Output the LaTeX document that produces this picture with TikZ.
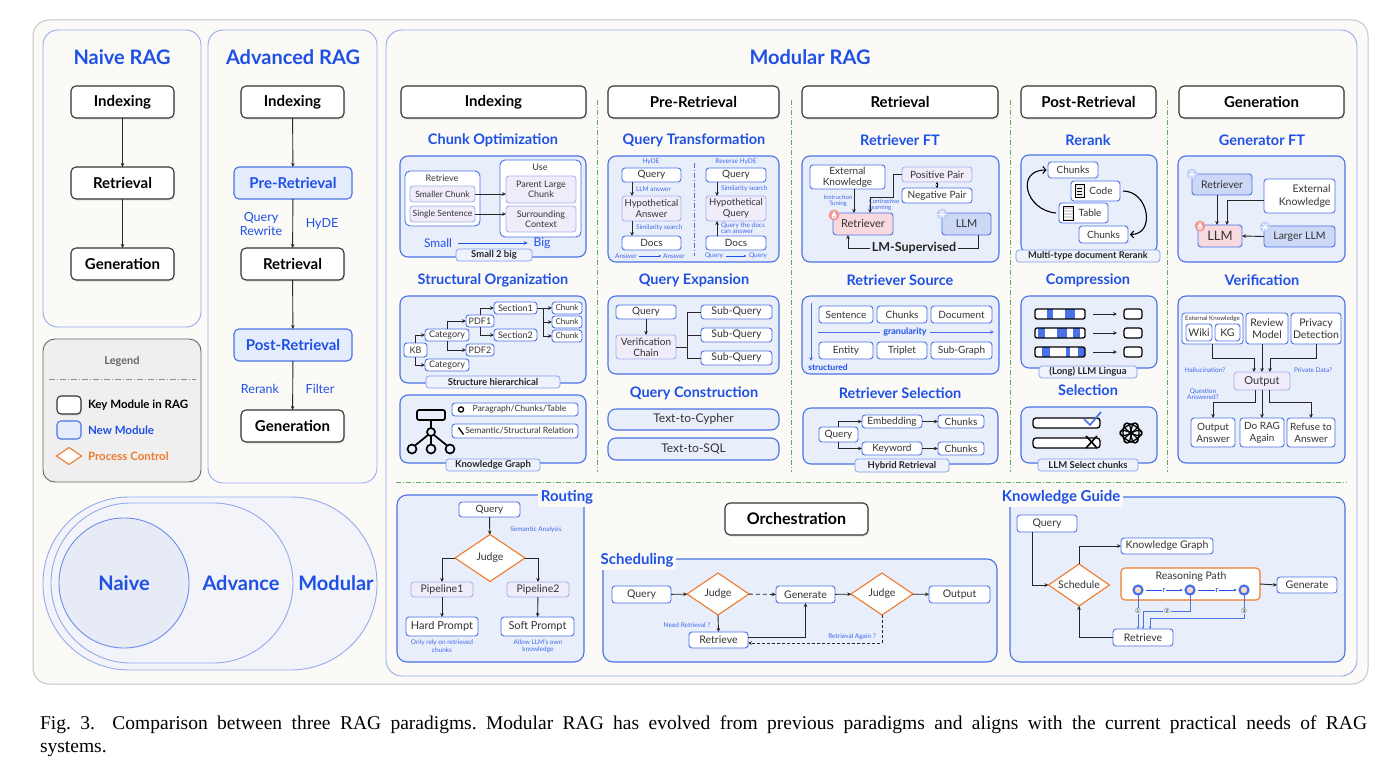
\documentclass[tikz,border=0pt]{standalone}
\usepackage{fontspec}
\setmainfont{Lato}
\newfontfamily\capfont{Liberation Serif}
\newfontfamily\dejavu{DejaVu Sans}
\usetikzlibrary{arrows.meta,shapes.geometric,shadows,calc}
\newcommand\fsz[2]{\fontsize{#1}{#2}\selectfont}
\definecolor{ttl}{HTML}{1E50E6}
\definecolor{bd}{HTML}{4A72E6}
\definecolor{pbd}{HTML}{93ABEE}
\definecolor{sf}{HTML}{E9EEFB}
\definecolor{paper}{HTML}{FBFAF6}
\definecolor{lav}{HTML}{F1ECFA}
\definecolor{lavbd}{HTML}{A3B3EE}
\definecolor{grn}{HTML}{5DAF5D}
\definecolor{org}{HTML}{EE7A2C}
\definecolor{pinkf}{HTML}{F8D9DD}
\definecolor{llmb}{HTML}{CCD8F5}
\definecolor{frm}{HTML}{C6C6C6}
\definecolor{lgd}{HTML}{EFEFEF}
\definecolor{newf}{HTML}{E5ECFD}
\definecolor{tagf}{HTML}{EEF2FD}
\definecolor{snowc}{HTML}{BFD0F7}
\definecolor{firec}{HTML}{F29A9A}
\definecolor{peach}{HTML}{FADCC6}
\definecolor{txt}{HTML}{333333}
\definecolor{circf}{HTML}{F2F4F9}
\definecolor{naivef}{HTML}{E7EBF5}
\newcommand\bx[8][]{\node[#2,minimum width={(#6)-(#4)},minimum height={(#7)-(#5)},#1] (#3) at ({((#4)+(#6))/2},{((#5)+(#7))/2}) {#8};}
\newcommand\snow[1]{\fill[snowc] (#1) circle (5.5);
  \foreach \a in {0,60,120}{\draw[white,line width=0.9] ($(#1)+(\a:3.8)$) -- ($(#1)+(\a+180:3.8)$);}}
\newcommand\fire[1]{\fill[firec] (#1) circle (5.5);
  \fill[white] ($(#1)+(0,1.2)$) circle (2.3);
  \fill[white] ($(#1)+(-2.2,0.6)$) -- ($(#1)+(0,-3.8)$) -- ($(#1)+(2.2,0.6)$) -- cycle;
  \fill[firec] ($(#1)+(0,1.6)$) circle (1);}
\tikzset{
  every node/.style={inner sep=0pt,outer sep=0pt},
  keyb/.style={draw=black!80,line width=1.1,rounded corners=5,fill=white,text=black,font=\fsz{15}{18}\bfseries,
     drop shadow={opacity=.18,shadow xshift=1pt,shadow yshift=-1.5pt}},
  newm/.style={draw=bd,line width=1.1,rounded corners=5,fill=newf,text=ttl,font=\fsz{15}{18}\bfseries},
  ttlf/.style={text=ttl,font=\fsz{20}{24}\bfseries},
  sect/.style={text=ttl,font=\fsz{14.5}{17}\bfseries},
  subb/.style={draw=bd,line width=1.1,rounded corners=8,fill=sf},
  ib/.style={draw=bd,line width=0.9,rounded corners=3,fill=white,align=center,text=txt,font=\fsz{10}{11}},
  pb/.style={ib,fill=lav,draw=lavbd},
  tagb/.style={draw=bd!70,line width=0.7,rounded corners=3,fill=tagf,text=black!85,font=\fsz{9.5}{11}\bfseries},
  nt/.style={text=ttl!85,font=\fsz{6.5}{7},align=center},
  arr/.style={-{Stealth[length=4pt,width=3.6pt]},line width=0.9,draw=black!85},
  tarr/.style={-{Stealth[length=2.5pt,width=2.5pt]},line width=0.6,draw=ttl,shorten <=1.5pt,shorten >=1.5pt},
  dia/.style={diamond,draw=org,line width=1.1,fill=white,aspect=1.5,text=txt,font=\fsz{10.5}{12}},
  barb/.style={-{Straight Barb[length=3pt,width=7pt]},line width=1.1},
  grnd/.style={draw=grn,line width=0.9,dash pattern=on 5pt off 2pt on 1pt off 2pt},
}
\begin{document}
\begin{tikzpicture}[x=1pt,y=-1pt]
\useasboundingbox (0,0) rectangle (1400,768);
\fill[white] (0,0) rectangle (1400,768);
% outer frame
\draw[draw=frm,fill=paper,line width=1,rounded corners=16] (33,20) rectangle (1368,684);
% ---------------- Naive
\draw[draw=pbd,fill=paper,line width=0.9,rounded corners=15] (43,30) rectangle (201,327);
\node[ttlf] (tnaive) at (122,57) {Naive RAG};
\bx{keyb}{n1}{71}{86}{174}{118}{Indexing}
\bx{keyb}{n2}{71}{167}{174}{199}{Retrieval}
\bx{keyb}{n3}{71}{248}{174}{280}{Generation}
\draw[arr] (n1) -- (n2);
\draw[arr] (n2) -- (n3);
% ---------------- Advanced
\draw[draw=pbd,fill=paper,line width=0.9,rounded corners=15] (208,30) rectangle (377,483);
\node[ttlf] (tadv) at (293,57) {Advanced RAG};
\bx{keyb}{a1}{241}{86}{344}{118}{Indexing}
\bx{newm}{a2}{234}{167}{352}{199}{Pre-Retrieval}
\bx{keyb}{a3}{241}{248}{344}{280}{Retrieval}
\bx{newm}{a4}{234}{329}{352}{361}{Post-Retrieval}
\bx{keyb}{a5}{241}{410}{344}{442}{Generation}
\draw[arr] (a1) -- (a2);
\draw[arr] (a2) -- (a3);
\draw[arr] (a3) -- (a4);
\draw[arr] (a4) -- (a5);
\node[text=ttl,font=\fsz{12.5}{14},align=center] (lqr) at (261,224) {Query\\Rewrite};
\node[text=ttl,font=\fsz{12.5}{14}] (lhy) at (322,224) {HyDE};
\node[text=ttl,font=\fsz{12.5}{14}] (lrr) at (260,389) {Rerank};
\node[text=ttl,font=\fsz{12.5}{14}] (lfi) at (320,389) {Filter};
% ---------------- Legend
\draw[draw=black!60,fill=lgd,line width=0.9,rounded corners=12] (43,339) rectangle (201,482);
\node[text=black!60,font=\fsz{11}{13}\bfseries] (lgt) at (122,361) {Legend};
\draw[draw=black!45,line width=0.7,dash pattern=on 6pt off 2pt on 1pt off 2pt] (49,379) -- (196,379);
\bx[rounded corners=4,line width=1.1]{keyb}{lk}{57}{396}{81}{414}{}
\bx[rounded corners=4]{newm}{ln}{57}{421}{81}{439}{}
\node[diamond,draw=org,line width=1.1,fill=white,minimum width=25,minimum height=17] (ld) at (69,456) {};
\node[anchor=west,font=\fsz{11.5}{13}\bfseries,text=black] (lkt) at (88,405) {Key Module in RAG};
\node[anchor=west,font=\fsz{11.5}{13}\bfseries,text=ttl] (lnt) at (88,430) {New Module};
\node[anchor=west,font=\fsz{11.5}{13}\bfseries,text=org] (ldt) at (88,456) {Process Control};
% ---------------- circles
\draw[draw=pbd,fill=circf,line width=0.9,rounded corners=86] (43,497) rectangle (377,670);
\draw[draw=pbd,fill=circf,line width=0.9,rounded corners=80] (51,503) rectangle (293,663);
\draw[draw=bd!80,fill=naivef,line width=0.9] (124,583) circle (65);
\node[text=ttl,font=\fsz{20}{24}\bfseries] (cn) at (124,583) {Naive};
\node[text=ttl,font=\fsz{20}{24}\bfseries] (ca) at (241,583) {Advance};
\node[text=ttl,font=\fsz{20}{24}\bfseries] (cm) at (336,583) {Modular};
% ---------------- Modular
\draw[draw=pbd,fill=paper,line width=0.9,rounded corners=16] (386,30) rectangle (1357,676);
\node[ttlf] (tmod) at (810,57) {Modular RAG};
\bx{keyb}{h1}{401}{86}{586}{118}{Indexing}
\bx{keyb}{h2}{608}{86}{779}{118}{Pre-Retrieval}
\bx{keyb}{h3}{802}{86}{998}{118}{Retrieval}
\bx{keyb}{h4}{1021}{86}{1156}{118}{Post-Retrieval}
\bx{keyb}{h5}{1179}{86}{1344}{118}{Generation}
\foreach \xx in {597,791,1010,1167}{\draw[grnd] (\xx,100) -- (\xx,472);}
\draw[grnd] (396,482) -- (1347,482);
% ===== Column 1: Indexing
\node[sect] (t11) at (493,140) {Chunk Optimization};
\draw[subb] (400,156) rectangle (586,257);
\bx[rounded corners=5]{ib}{ret}{405}{171}{480}{226}{}
\node[text=txt,font=\fsz{9}{10}] (rett) at (442,178) {Retrieve};
\bx[font=\fsz{8.6}{10}]{pb}{sc}{410}{186}{475}{202}{Smaller Chunk}
\bx[font=\fsz{8.6}{10}]{pb}{ss}{410}{206}{475}{222}{Single Sentence}
\bx[rounded corners=5]{ib}{use}{500}{160}{581}{237}{}
\node[text=txt,font=\fsz{9}{10}] (uset) at (540,167) {Use};
\bx[font=\fsz{9}{10}]{pb}{plc}{506}{176}{576}{203}{Parent Large\\Chunk}
\bx[font=\fsz{9}{10}]{pb}{sctx}{506}{206}{576}{232}{Surrounding\\Context}
\draw[arr] (sc.east) -- (sc.east -| plc.west);
\draw[arr] (ss.east) -- (ss.east -| sctx.west);
\node[text=ttl,font=\fsz{12}{14}] (sml) at (438,243) {Small};
\node[text=ttl,font=\fsz{12}{14}] (big) at (542,243) {Big};
\draw[arr,draw=ttl,shorten <=6pt,shorten >=6pt] (sml) -- (big);
\bx{tagb}{tg1}{456}{249}{532}{261}{Small 2 big}
\node[sect] (t12) at (493,280) {Structural Organization};
\draw[subb] (400,296) rectangle (586,383);
\bx[font=\fsz{9}{10}]{ib}{kb}{404}{343}{427}{357}{KB}
\bx[font=\fsz{9}{10}]{ib}{cat1}{425}{329}{469}{341}{Category}
\bx[font=\fsz{9}{10}]{ib}{cat2}{425}{359}{469}{371}{Category}
\bx[font=\fsz{9}{10}]{ib}{pdf1}{466}{315}{494}{327}{PDF1}
\bx[font=\fsz{9}{10}]{ib}{pdf2}{466}{344}{494}{356}{PDF2}
\bx[font=\fsz{9}{10}]{ib}{s1}{494}{302}{537}{314}{Section1}
\bx[font=\fsz{9}{10}]{ib}{s2}{494}{329}{537}{341}{Section2}
\bx[font=\fsz{8}{9}]{ib}{ch1}{552}{302}{582}{314}{Chunk}
\bx[font=\fsz{8}{9}]{ib}{ch2}{552}{316}{582}{328}{Chunk}
\bx[font=\fsz{8}{9}]{ib}{ch3}{552}{330}{582}{342}{Chunk}
\draw[arr] (kb.north) |- (cat1.west);
\draw[arr] (kb.south) |- (cat2.west);
\draw[arr] (cat1.north) |- (pdf1.west);
\draw[arr] (cat1.south) |- (pdf2.west);
\draw[arr] (pdf1.north) |- (s1.west);
\draw[arr] (pdf1.south) |- (s2.west);
\coordinate (brc) at (543,308);
\draw[line width=0.9,draw=black!85] (s1.east) -- (brc) -- (brc |- ch3);
\draw[arr] (brc) -- (ch1.west);
\draw[arr] (brc |- ch2) -- (ch2.west);
\draw[arr] (brc |- ch3) -- (ch3.west);
\bx{tagb}{tg2}{426}{376}{560}{388}{Structure hierarchical}
\draw[subb] (400,395) rectangle (586,463);
\draw[line width=1.7,rounded corners=2] (417,410) rectangle (445,420);
\draw[line width=1.7] (431,420) -- (431,428);
\draw[line width=1.7] (431,432) circle (4);
\foreach \cx in {412,431,450}{\draw[line width=1.7] (\cx,449) circle (4.5);}
\draw[line width=1.7] (428,435) -- (415,445.5);
\draw[line width=1.7] (431,436) -- (431,444.5);
\draw[line width=1.7] (434,435) -- (447,445.5);
\bx[font=\fsz{8.6}{10}]{ib}{pct}{452}{403}{578}{416}{\hspace*{9pt}Paragraph/Chunks/Table}
\bx[font=\fsz{8.6}{10}]{ib}{ssr}{452}{424}{578}{438}{\hspace*{9pt}Semantic/Structural Relation}
\draw[line width=1.3] (461,409.5) circle (2.6);
\draw[line width=1.3] (458.5,427.5) -- (463.5,434.5);
\bx{tagb}{tg3}{446}{459}{540}{471}{Knowledge Graph}
% ===== Column 2: Pre-Retrieval
\node[sect] (t21) at (694,140) {Query Transformation};
\draw[subb] (608,156) rectangle (779,262);
\draw[draw=bd,line width=0.8,dash pattern=on 5pt off 2pt on 1pt off 2pt] (694,163) -- (694,256);
\node[nt] (lhyde) at (651,162) {HyDE};
\node[nt] (lrhyde) at (736,162) {Reverse HyDE};
\bx{ib}{q1}{622}{168}{681}{182}{Query}
\bx[font=\fsz{9.5}{10.5}]{pb}{ha}{622}{196}{681}{221}{Hypothetical\\Answer}
\bx{ib}{d1}{622}{236}{681}{250}{Docs}
\draw[arr] ([xshift=-19.5pt]q1.south) -- ([xshift=-19.5pt]ha.north);
\draw[arr] ([xshift=-19.5pt]ha.south) -- ([xshift=-19.5pt]d1.north);
\node[nt,anchor=west] (lla) at (636,189) {LLM answer};
\node[nt,anchor=west] (lss1) at (636,228) {Similarity search};
\node[nt] (an1) at (626,256) {Answer};
\node[nt] (an2) at (674,256) {Answer};
\draw[tarr,shorten <=2pt,shorten >=2pt] (an1) -- (an2);
\bx{ib}{q2}{706}{168}{766}{182}{Query}
\bx[font=\fsz{9.5}{10.5}]{pb}{hq}{706}{196}{766}{221}{Hypothetical\\Query}
\bx{ib}{d2}{706}{236}{766}{250}{Docs}
\draw[arr] ([xshift=-19pt]q2.south) -- ([xshift=-19pt]hq.north);
\draw[arr] ([xshift=-19pt]d2.north) -- ([xshift=-19pt]hq.south);
\node[nt,anchor=west] (lss2) at (721,189) {Similarity search};
\node[nt,anchor=west,align=left,font=\fsz{6.5}{6.5}] (lqd) at (721,228) {Query the docs\\can answer};
\node[nt] (qn1) at (714,256) {Query};
\node[nt] (qn2) at (758,256) {Query};
\draw[tarr,shorten <=3pt,shorten >=3pt] (qn1) -- (qn2);
\node[sect] (t22) at (694,280) {Query Expansion};
\draw[subb] (608,296) rectangle (779,374);
\bx{ib}{qe}{616}{305}{676}{319}{Query}
\bx{pb}{vc}{616}{335}{676}{359}{Verification\\Chain}
\bx[font=\fsz{10.5}{12}]{ib}{sq1}{701}{305}{772}{319}{Sub-Query}
\bx[font=\fsz{10.5}{12}]{ib}{sq2}{701}{328}{772}{342}{Sub-Query}
\bx[font=\fsz{10.5}{12}]{ib}{sq3}{701}{351}{772}{365}{Sub-Query}
\draw[arr] (qe) -- (vc);
\coordinate (qb) at (687,347);
\draw[line width=0.9,draw=black!85] (vc.east) -- (qb);
\draw[line width=0.9,draw=black!85] (qb |- sq1) -- (qb |- sq3);
\draw[line width=0.9,draw=black!85] (qb |- sq1) -- (sq1.west);
\draw[line width=0.9,draw=black!85] (qb |- sq2) -- (sq2.west);
\draw[line width=0.9,draw=black!85] (qb |- sq3) -- (sq3.west);
\node[sect] (t23) at (694,393) {Query Construction};
\bx[rounded corners=8,line width=1.1,fill=sf,font=\fsz{12}{14}]{ib}{tcy}{608}{409}{779}{430}{Text-to-Cypher}
\bx[rounded corners=8,line width=1.1,fill=sf,font=\fsz{12}{14}]{ib}{tsq}{608}{438}{779}{460}{Text-to-SQL}
% ===== Column 3: Retrieval
\node[sect] (t31) at (900,140) {Retriever FT};
\draw[subb] (802,156) rectangle (999,262);
\bx[font=\fsz{10}{10.5}]{ib}{ek}{810}{165}{885}{189}{External\\Knowledge}
\bx[font=\fsz{10}{11}]{pb}{pp}{902}{167}{972}{182}{Positive Pair}
\bx[font=\fsz{10}{11}]{ib}{np}{902}{188}{972}{203}{Negative Pair}
\bx[fill=pinkf,font=\fsz{11}{12}]{ib}{rt}{833}{213}{893}{235}{Retriever}
\bx[fill=llmb,font=\fsz{11}{12}]{ib}{llm}{942}{213}{991}{235}{LLM}
\fire{834,215}
\snow{942,214}
\draw[{Stealth[length=2.5pt,width=2.5pt]}-{Stealth[length=2.5pt,width=2.5pt]},line width=0.8] (pp.south) -- (np.north);
\draw[arr] ([xshift=6.5pt]ek.south) -- ([xshift=-9pt]rt.north);
\node[nt,font=\fsz{6}{6.3}] (lit) at (838,201) {Instruction\\Tuning};
\draw[arr] (pp.west) -| (893,197) -| ([xshift=7pt]rt.north);
\node[nt,font=\fsz{6}{6.3},align=left] (lcl) at (884,205) {Contrastive\\Learning};
\draw[arr] ([xshift=11.5pt]llm.south) -- ++(0,13) -| ([xshift=-15pt]rt.south);
\node[fill=sf,inner xsep=2pt,inner ysep=1pt,font=\fsz{12.5}{14}\bfseries,text=black!85] (lms) at (914,248) {LM-Supervised};
\node[sect] (t32) at (900,280) {Retriever Source};
\draw[subb] (802,296) rectangle (999,374);
\draw[arr,draw=bd] (811,303) -- (811,361);
\node[text=ttl,font=\fsz{8.5}{10}\bfseries] (lst) at (828,367) {structured};
\bx{ib}{rs1}{819}{306}{873}{323}{Sentence}
\bx{ib}{rs2}{877}{306}{927}{323}{Chunks}
\bx{ib}{rs3}{931}{306}{992}{323}{Document}
\bx{ib}{rs4}{819}{342}{873}{359}{Entity}
\bx{ib}{rs5}{877}{342}{927}{359}{Triplet}
\bx{ib}{rs6}{931}{342}{992}{359}{Sub-Graph}
\draw[arr,draw=bd] (818,332) -- (994,332);
\node[fill=sf,inner xsep=3pt,inner ysep=1pt,text=ttl,font=\fsz{9}{10}\bfseries] (lgr) at (905,332) {granularity};
\node[sect] (t33) at (900,393) {Retriever Selection};
\draw[subb] (803,408) rectangle (998,464);
\bx{ib}{qs}{819}{427}{858}{442}{Query}
\bx{ib}{emb}{862}{415}{922}{428}{Embedding}
\bx{ib}{kw}{862}{442}{922}{455}{Keyword}
\bx{ib}{cha}{938}{415}{984}{428}{Chunks}
\bx{ib}{chb}{938}{442}{984}{455}{Chunks}
\draw[arr] (qs.north) |- (emb.west);
\draw[arr] (qs.south) |- (kw.west);
\draw[arr] (emb) -- (cha);
\draw[arr] (kw) -- (chb);
\bx{tagb}{tg4}{855}{459}{949}{472}{Hybrid Retrieval}
% ===== Column 4: Post-Retrieval
\node[sect] (t41) at (1088,140) {Rerank};
\draw[subb] (1021,155) rectangle (1157,253);
\bx{ib}{rk1}{1048}{162}{1098}{178}{Chunks}
\bx{ib}{rk2}{1071}{181}{1120}{201}{\hspace*{11pt}Code}
\bx{ib}{rk3}{1059}{203}{1108}{223}{\hspace*{13pt}Table}
\bx{ib}{rk4}{1079}{226}{1128}{243}{Chunks}
\draw[line width=0.7,fill=black!8] (1075,184.5) rectangle (1084,197.5);
\foreach \yy in {188,191,194}{\draw[line width=0.5] (1077,\yy) -- (1082,\yy);}
\draw[line width=0.7,fill=black!15] (1063,206) rectangle (1073,220);
\foreach \yy in {209,212,215,218}{\draw[line width=0.5,white] (1064,\yy) -- (1072,\yy);}
\draw[barb] ([xshift=-3pt]rk3.west) to[out=175,in=180,looseness=1.8] ([xshift=-1.5pt]rk1.west);
\draw[barb] ([xshift=3pt]rk2.east) to[out=0,in=0,looseness=1.5] ([xshift=2pt]rk4.east);
\bx[font=\fsz{9.3}{11}\bfseries]{tagb}{tg5}{1016}{250}{1160}{262}{Multi-type document Rerank}
\node[sect] (t42) at (1088,280) {Compression};
\draw[subb] (1021,296) rectangle (1157,368);
\foreach \nm/\yy in {1/314,2/333,3/352}{
  \bx[draw=none,rounded corners=2]{ib}{bar\nm}{1035}{\yy-5}{1085}{\yy+5}{}
  \bx[draw=black,line width=1.2,rounded corners=2.5]{ib}{cb\nm}{1124}{\yy-5}{1142}{\yy+5}{}
  \draw[arr] ([xshift=8pt]bar\nm.east) -- ([xshift=-7pt]cb\nm.west);
}
\fill[bd] (1047,309) rectangle (1053,319);
\fill[bd] (1065,309) rectangle (1075,319);
\fill[bd] (1038,328) rectangle (1045,338);
\fill[bd] (1057,328) rectangle (1067,338);
\fill[bd] (1073,328) rectangle (1080,338);
\fill[bd] (1042,347) rectangle (1050,357);
\fill[bd] (1066,347) rectangle (1070,357);
\fill[bd] (1078,347) rectangle (1085,357);
\foreach \nm in {1,2,3}{\draw[line width=1.3,rounded corners=2] (bar\nm.north west) rectangle (bar\nm.south east);}
\bx{tagb}{tg6}{1039}{366}{1137}{378}{(Long) LLM Lingua}
\node[sect] (t43) at (1088,390) {Selection};
\draw[subb] (1021,407) rectangle (1157,463);
\bx[draw=black,line width=1.3,rounded corners=3]{ib}{sel1}{1033}{418}{1100}{428}{}
\bx[draw=black,line width=1.3,rounded corners=3]{ib}{sel2}{1033}{438}{1100}{448}{}
\draw[draw=bd,line width=1.7] (1084,419) -- (1090,425) -- (1101,412);
\draw[line width=1.6] (1086,436) -- (1097,448);
\draw[line width=1.6] (1086,448) -- (1097,436);
\foreach \a in {0,60,...,300}{\draw[line width=1.3,rotate around={\a:(1131,433)}] (1135,433) ellipse (4 and 10);}
\bx{tagb}{tg7}{1038}{459}{1138}{471}{LLM Select chunks}
% ===== Column 5: Generation
\node[sect] (t51) at (1262,140) {Generator FT};
\draw[subb] (1178,156) rectangle (1345,262);
\bx[fill=llmb,font=\fsz{10.5}{12}]{ib}{gr}{1192}{174}{1252}{195}{Retriever}
\bx[font=\fsz{10.5}{13},text width=62,align=right]{ib}{gek}{1264}{179}{1335}{213}{External\\Knowledge}
\bx[fill=pinkf,font=\fsz{13}{14}]{ib}{gllm}{1198}{225}{1242}{247}{LLM}
\bx[fill=llmb,font=\fsz{10.5}{12}]{ib}{glg}{1264}{226}{1335}{247}{Larger LLM}
\snow{1192,174}
\fire{1200,226}
\snow{1265,227}
\draw[arr] ([xshift=-5pt]gr.south) -- ([xshift=-3pt]gllm.north);
\draw[arr] ([yshift=-4pt]gek.west) -| ([xshift=7pt]gllm.north);
\draw[arr] (glg.west) -- (gllm.east);
\node[sect] (t52) at (1262,280) {Verification};
\draw[subb] (1178,296) rectangle (1345,463);
\bx{ib}{ekg}{1182}{313}{1243}{344}{}
\node[text=txt,font=\fsz{6.2}{7}] (ekgt) at (1212.5,318.5) {External Knowledge};
\bx[font=\fsz{10.5}{12}]{ib}{wiki}{1186}{324}{1212}{341}{Wiki}
\bx[font=\fsz{10.5}{12}]{ib}{kg}{1215}{324}{1240}{341}{KG}
\bx[font=\fsz{10.5}{12.5}]{ib}{rm}{1246}{313}{1288}{344}{Review\\Model}
\bx[font=\fsz{10.5}{12.5}]{ib}{pd}{1291}{313}{1341}{344}{Privacy\\Detection}
\bx[font=\fsz{11}{12}]{pb}{vout}{1234}{372}{1290}{390}{Output}
\coordinate (vj) at (1262,358);
\coordinate (vk) at (1262,402);
\draw[arr] (ekg.south) |- ([xshift=-8pt]vj) -- ([xshift=-8pt]vout.north);
\draw[arr] (vout.north |- rm.south) -- (vout.north);
\draw[arr] (pd.south) |- ([xshift=8pt]vj) -- ([xshift=8pt]vout.north);
\node[nt] (lhal) at (1205,370) {Hallucination?};
\node[nt] (lpri) at (1313,370) {Private Data?};
\node[nt,font=\fsz{6.5}{6.5}] (lqa) at (1203,394) {Question\\Answered?};
\bx[font=\fsz{10}{12}]{ib}{oa}{1191}{418}{1235}{447}{Output\\Answer}
\bx[font=\fsz{10}{12}]{ib}{dra}{1240}{418}{1284}{447}{Do RAG\\Again}
\bx[font=\fsz{10}{12}]{ib}{rfa}{1287}{418}{1335}{447}{Refuse to\\Answer}
\draw[arr] ([xshift=-7pt]vout.south) |- (oa.north |- vk) -- (oa.north);
\draw[arr] (vout.south) -- (dra.north);
\draw[arr] ([xshift=7pt]vout.south) |- (rfa.north |- vk) -- (rfa.north);
% ===== Routing
\draw[subb,rounded corners=10] (397,495) rectangle (584,662);
\node[fill=paper,inner sep=3pt,text=ttl,font=\fsz{15}{18}\bfseries] (trout) at (567,497) {Routing};
\bx{ib}{rq}{459}{502}{520}{517}{Query}
\node[dia,minimum width=70,minimum height=47] (rj) at (490,558) {Judge};
\bx[font=\fsz{10.5}{12}]{pb}{pl1}{411}{582}{473}{597}{Pipeline1}
\bx[font=\fsz{10.5}{12}]{pb}{pl2}{507}{582}{569}{597}{Pipeline2}
\bx[font=\fsz{11}{13}]{ib}{hp}{406}{617}{478}{636}{Hard Prompt}
\bx[font=\fsz{11}{13}]{ib}{spr}{501}{617}{574}{636}{Soft Prompt}
\draw[arr] (rq) -- (rj);
\draw[arr] (rj.west) -| (pl1.north);
\draw[arr] (rj.east) -| (pl2.north);
\draw[arr] (pl1) -- (hp);
\draw[arr] (pl2) -- (spr);
\node[nt] (lsa) at (536,530) {Semantic Analysis};
\node[nt,font=\fsz{6.5}{7.5}] (lor) at (442,646) {Only rely on retrieved\\chunks};
\node[nt,font=\fsz{6.5}{7.5}] (lal) at (538,646) {Allow LLM's own\\knowledge};
% ===== Orchestration
\bx[font=\fsz{16}{19}\bfseries]{keyb}{orc}{725}{503}{868}{535}{Orchestration}
\draw[subb,rounded corners=10] (603,559) rectangle (997,662);
\node[fill=paper,inner sep=3pt,text=ttl,font=\fsz{15}{18}\bfseries] (tsch) at (637,560) {Scheduling};
\bx[font=\fsz{10.5}{12}]{ib}{sq}{612}{586}{671}{603}{Query}
\node[dia,minimum width=62,minimum height=42] (j1) at (718,594) {Judge};
\bx[font=\fsz{10.5}{12}]{ib}{gen}{776}{586}{835}{603}{Generate}
\node[dia,minimum width=62,minimum height=42] (j2) at (882,594) {Judge};
\bx[font=\fsz{10.5}{12}]{ib}{sout}{929}{586}{990}{603}{Output}
\bx[font=\fsz{10.5}{12}]{ib}{sret}{689}{632}{748}{648}{Retrieve}
\draw[arr] (sq) -- (j1);
\draw[arr,dash pattern=on 4pt off 3pt] (j1) -- (gen);
\draw[arr] (gen) -- (j2);
\draw[arr] (j2) -- (sout);
\draw[arr] (j1.south) -- (sret.north);
\draw[arr] ([yshift=3pt]sret.east) -| (gen.south);
\draw[arr,dash pattern=on 3pt off 2pt] (j2.south) |- ([yshift=-3pt]sret.east);
\node[nt] (lnr) at (687,625) {Need Retrieval ?};
\node[nt] (lra) at (852,637) {Retrieval Again ?};
% ===== Knowledge Guide
\draw[subb,rounded corners=10] (1010,497) rectangle (1345,662);
\node[fill=paper,inner sep=3pt,text=ttl,font=\fsz{15}{18}\bfseries] (tkg) at (1061,497) {Knowledge Guide};
\bx[font=\fsz{10.5}{12}]{ib}{kq}{1017}{515}{1077}{532}{Query}
\node[dia,minimum width=61,minimum height=42] (ksch) at (1079,585) {Schedule};
\bx[font=\fsz{10.5}{12}]{ib}{kkg}{1121}{538}{1213}{554}{Knowledge Graph}
\bx[draw=org,line width=1.1,rounded corners=4]{ib}{krp}{1121}{568}{1260}{600}{}
\node[text=txt,font=\fsz{10.5}{12}] (krpt) at (1191,577) {Reasoning Path};
\bx[font=\fsz{10.5}{12}]{ib}{kgen}{1277}{577}{1337}{593}{Generate}
\bx[font=\fsz{10.5}{12}]{ib}{kret}{1113}{629}{1173}{646}{Retrieve}
\draw[arr] ([xshift=-15pt]kq.south) |- (ksch.west);
\draw[arr] (ksch.north) |- (kkg.west);
\draw[arr] (kret.west) -| (ksch.south);
\draw[arr] (krp.east) -- (kgen.west);
\foreach \nm/\cx in {1/1138,2/1190,3/1244}{\node[circle,draw=bd,line width=2.2,fill=peach,minimum size=9] (kc\nm) at (\cx,590) {};}
\draw[tarr,shorten <=3pt,shorten >=3pt,line width=0.9] (kc1) -- node[fill=white,inner xsep=1pt,font=\fsz{8}{9},text=ttl] (lr1) {r} (kc2);
\draw[tarr,shorten <=3pt,shorten >=3pt,line width=0.9] (kc2) -- node[fill=white,inner xsep=1pt,font=\fsz{8}{9},text=ttl] (lr2) {r} (kc3);
\coordinate (kk2) at (1143,611);
\coordinate (kk3) at (1150,618);
\draw[-{Stealth[length=2.5pt,width=2.5pt]},draw=bd,line width=0.6] (kc1.south) -- (kc1.south |- kret.north);
\draw[-{Stealth[length=2.5pt,width=2.5pt]},draw=bd,line width=0.6] (kc2.south) |- (kk2) -- (kk2 |- kret.north);
\draw[-{Stealth[length=2.5pt,width=2.5pt]},draw=bd,line width=0.6] (kc3.south) |- (kk3) -- (kk3 |- kret.north);
\node[fill=sf,inner sep=0.5pt,font=\dejavu\fsz{7}{8},text=black!70] (n1l) at (1138,611) {①};
\node[fill=sf,inner sep=0.5pt,font=\dejavu\fsz{7}{8},text=black!70] (n2l) at (1167,611) {②};
\node[fill=sf,inner sep=0.5pt,font=\dejavu\fsz{7}{8},text=black!70] (n3l) at (1244,611) {③};
% ===== caption
\node[anchor=base west,font=\capfont\fsz{19.5}{23}] (cap1) at (40,729) {\frenchspacing\makebox[1327pt][s]{Fig. 3.\hspace{0.9em}Comparison between three RAG paradigms. Modular RAG has evolved from previous paradigms and aligns with the current practical needs of RAG}};
\node[anchor=base west,font=\capfont\fsz{19.5}{23}] (cap2) at (40,752) {systems.};
\end{tikzpicture}
\end{document}
